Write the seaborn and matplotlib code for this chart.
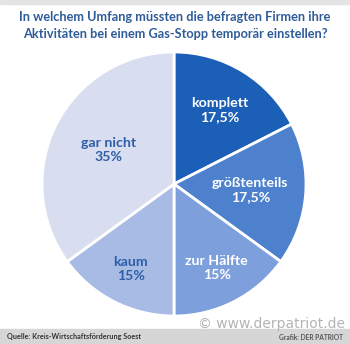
import numpy as np
import matplotlib
matplotlib.use("Agg")
import matplotlib.pyplot as plt
import seaborn as sns

# Survey answers: share of companies by extent of shutdown during a gas stop
categories = ["komplett", "größtenteils", "zur Hälfte", "kaum", "gar nicht"]
shares = [17.5, 17.5, 15, 15, 35]

title_lines = ["In welchem Umfang müssten die befragten Firmen ihre",
               "Aktivitäten bei einem Gas-Stopp temporär einstellen?"]
source_text = "Quelle: Kreis-Wirtschaftsförderung Soest"
credit_text = "Grafik: DER PATRIOT"
watermark_text = "© www.derpatriot.de"

slice_colors = ["#1c5fb6", "#4e81cd", "#7d9fdc", "#a8bbe5", "#d9ddf0"]
text_colors = ["white", "white", "white", "#2d5fa8", "#2d5fa8"]
label_radius = [0.66, 0.58, 0.71, 0.72, 0.56]

sns.set_theme(style="white")
plt.rcParams["font.family"] = ["Lato", "DejaVu Sans"]

W, H = 350, 344
fig = plt.figure(figsize=(W / 100, H / 100), dpi=100)
fig.patch.set_facecolor("white")
ax = fig.add_axes([0, 0, 1, 1])

cx, cy, R = 174, H - 184, 132
wedges, _ = ax.pie(shares, colors=slice_colors, startangle=90, counterclock=False,
                   center=(cx, cy), radius=R, frame=True,
                   wedgeprops=dict(edgecolor="white", linewidth=2))
for w in wedges:
    w.set_zorder(1)
ax.set_xlim(0, W)
ax.set_ylim(0, H)
ax.set_aspect("equal")
ax.axis("off")

# thin grey band at the top edge and footer bar
ax.add_patch(plt.Rectangle((0, H - 4), W, 4, color="#e4e4e4", zorder=0))
ax.add_patch(plt.Rectangle((0, 0), W, 15, color="#d6d6d6", zorder=3))

for w, name, val, tc, rf in zip(wedges, categories, shares, text_colors, label_radius):
    mid = np.deg2rad((w.theta1 + w.theta2) / 2)
    x = cx + rf * R * np.cos(mid)
    y = cy + rf * R * np.sin(mid)
    pct = f"{val:g}".replace(".", ",") + "%"
    ax.text(x, y, f"{name}\n{pct}", ha="center", va="center", color=tc,
            fontsize=10.2, fontweight="bold", linespacing=1.2, zorder=4)

ax.text(W / 2, H - 17, title_lines[0], ha="center", va="center",
        fontsize=9.2, fontweight="bold", color="#2e5c99", zorder=4)
ax.text(W / 2, H - 34, title_lines[1], ha="center", va="center",
        fontsize=9.2, fontweight="bold", color="#2e5c99", zorder=4)

ax.text(7, 7.5, source_text, ha="left", va="center", fontsize=5.2,
        fontweight="bold", color="#333333", zorder=5)
ax.text(343, 7, credit_text, ha="right", va="center", fontsize=4.8,
        fontweight="bold", color="#555555", zorder=7)
ax.text(345, 20, watermark_text, ha="right", va="center", fontsize=10,
        color="#b4b4b4", family=["DejaVu Sans"], zorder=6)

fig.savefig("out.png", dpi=100, facecolor=fig.get_facecolor())
